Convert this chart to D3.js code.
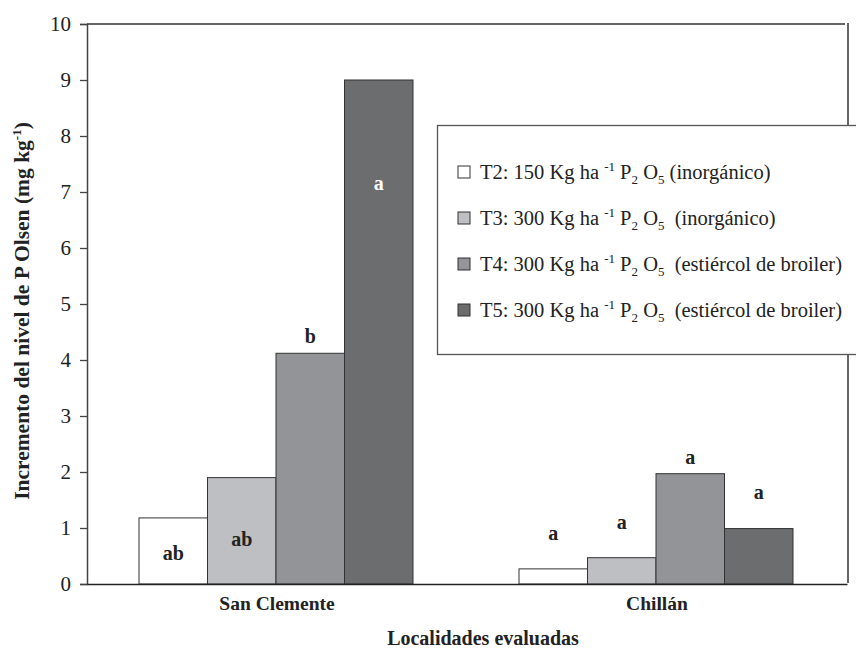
<!DOCTYPE html>
<html>
<head>
<meta charset="utf-8">
<script src="https://cdn.jsdelivr.net/npm/d3@7"></script>
<style>
  body { margin: 0; background: #fff; }
</style>
</head>
<body>
<div id="chart"></div>
<script>
// data
const sites = ["San Clemente", "Chillán"];
const treatments = ["T2", "T3", "T4", "T5"];
const sanClemente = [1.18, 1.9, 4.12, 9.0];
const chillan = [0.27, 0.47, 1.97, 0.99];
const lettersSC = ["ab", "ab", "b", "a"];
const lettersCh = ["a", "a", "a", "a"];
// where the letters sit, in axis units
const letterAtSC = [0.43, 0.68, 4.3, 7.03];
const letterAtCh = [0.79, 0.98, 2.14, 1.52];
const yTicks = [0, 1, 2, 3, 4, 5, 6, 7, 8, 9, 10];
const legendLabels = [
  [["T2: 150 Kg ha "], ["-1", "sup"], [" P"], ["2", "sub"], [" O"], ["5", "sub"], [" (inorgánico)"]],
  [["T3: 300 Kg ha "], ["-1", "sup"], [" P"], ["2", "sub"], [" O"], ["5", "sub"], ["\u00a0 (inorgánico)"]],
  [["T4: 300 Kg ha "], ["-1", "sup"], [" P"], ["2", "sub"], [" O"], ["5", "sub"], ["\u00a0 (estiércol de broiler)"]],
  [["T5: 300 Kg ha "], ["-1", "sup"], [" P"], ["2", "sub"], [" O"], ["5", "sub"], ["\u00a0 (estiércol de broiler)"]]
];
const colors = ["#ffffff", "#bebfc3", "#939498", "#6c6d6f"];

const serif = "'Liberation Serif'";
const ink = "#222";
const width = 856, height = 650;
const margin = {top: 24, right: 9, bottom: 66, left: 87};

const svg = d3.select("#chart").append("svg")
  .attr("width", width)
  .attr("height", height);

const x0 = d3.scaleBand().domain(sites)
  .range([margin.left, width - margin.right]);
const x1 = d3.scaleBand().domain(treatments)
  .range([0, 274]);
const y = d3.scaleLinear().domain([0, 10])
  .range([height - margin.bottom, margin.top]);

const rows = sites.map((s, i) => ({
  site: s,
  values: i === 0 ? sanClemente : chillan,
  letters: i === 0 ? lettersSC : lettersCh,
  at: i === 0 ? letterAtSC : letterAtCh
}));

// frame (top and right)
svg.append("line")
  .attr("x1", margin.left).attr("x2", width - margin.right - 2)
  .attr("y1", y(10)).attr("y2", y(10))
  .attr("stroke", "#333").attr("stroke-width", 1.5);
svg.append("line")
  .attr("x1", width - margin.right + 1).attr("x2", width - margin.right + 1)
  .attr("y1", y(10) - 1).attr("y2", y(0) - 1)
  .attr("stroke", "#333").attr("stroke-width", 1.5);

// bars
const groups = svg.append("g").selectAll("g")
  .data(rows)
  .join("g")
  .attr("transform", d => `translate(${x0(d.site) + x0.bandwidth() / 2 - 138},0)`);

groups.selectAll("rect")
  .data(d => d.values.map((v, i) => ({v, t: treatments[i], i})))
  .join("rect")
  .attr("x", d => x1(d.t))
  .attr("width", x1.bandwidth())
  .attr("y", d => y(d.v))
  .attr("height", d => y(0) - y(d.v))
  .attr("fill", d => colors[d.i])
  .attr("stroke", "#333")
  .attr("stroke-width", 1);

groups.selectAll("text.letter")
  .data(d => d.letters.map((l, i) => ({l, at: d.at[i], t: treatments[i], v: d.values[i], i})))
  .join("text")
  .attr("class", "letter")
  .attr("x", d => x1(d.t) + x1.bandwidth() / 2)
  .attr("y", d => y(d.at))
  .attr("text-anchor", "middle")
  .style("font-family", serif)
  .style("font-size", "20px")
  .style("font-weight", "bold")
  .style("fill", d => (d.i === 3 && d.at < d.v) ? "#fff" : ink)
  .text(d => d.l);

// y axis
const yAxis = svg.append("g")
  .attr("transform", `translate(${margin.left},0)`)
  .call(d3.axisLeft(y).tickValues(yTicks).tickSize(7).tickPadding(9).tickFormat(d3.format("d")));
yAxis.select(".domain").attr("stroke", "#444").attr("stroke-width", 1.5);
yAxis.selectAll(".tick line").attr("stroke", "#444").attr("stroke-width", 1.3);
yAxis.selectAll(".tick text")
  .style("font-family", serif)
  .style("font-size", "21px")
  .style("fill", ink);

// x axis
const xAxis = svg.append("g")
  .attr("transform", `translate(0,${y(0)})`)
  .call(d3.axisBottom(x0).tickSize(0).tickPadding(12));
xAxis.select(".domain").attr("stroke", "#222").attr("stroke-width", 1.5);
xAxis.selectAll(".tick text")
  .style("font-family", serif)
  .style("font-size", "19.5px")
  .style("font-weight", "bold")
  .style("fill", ink);

// axis titles
svg.append("text")
  .attr("x", 483).attr("y", 645)
  .attr("text-anchor", "middle")
  .style("font-family", serif)
  .style("font-size", "20px")
  .style("font-weight", "bold")
  .style("fill", ink)
  .text("Localidades evaluadas");

const yt = svg.append("text")
  .attr("transform", "translate(29,311) rotate(-90)")
  .attr("text-anchor", "middle")
  .style("font-family", serif)
  .style("font-size", "21.5px")
  .style("font-weight", "bold")
  .style("fill", ink);
yt.append("tspan").text("Incremento del nivel de P Olsen (mg kg");
yt.append("tspan").attr("dy", -8).style("font-size", "13px").text("-1");
yt.append("tspan").attr("dy", 8).text(")");

// legend
const legend = svg.append("g");
legend.append("rect")
  .attr("x", 437.5).attr("y", 125.5)
  .attr("width", 440).attr("height", 229)
  .attr("fill", "#fff").attr("stroke", "#555").attr("stroke-width", 1.3);

const items = legend.selectAll("g.item")
  .data(legendLabels)
  .join("g")
  .attr("class", "item")
  .attr("transform", (d, i) => `translate(0,${172 + i * 46})`);

items.append("rect")
  .attr("x", 458).attr("y", -6)
  .attr("width", 12).attr("height", 12)
  .attr("fill", (d, i) => colors[i])
  .attr("stroke", "#333").attr("stroke-width", 1);

items.append("text")
  .attr("x", 480).attr("y", 7)
  .style("font-family", serif)
  .style("font-size", "20.5px")
  .style("fill", ink)
  .style("white-space", "pre")
  .each(function(parts) {
    const t = d3.select(this);
    let shift = 0;
    parts.forEach(([txt, kind]) => {
      const target = kind === "sup" ? -8 : kind === "sub" ? 5 : 0;
      t.append("tspan")
        .attr("dy", target - shift)
        .style("font-size", kind ? "13px" : "20.5px")
        .text(txt);
      shift = target;
    });
  });
</script>
</body>
</html>
